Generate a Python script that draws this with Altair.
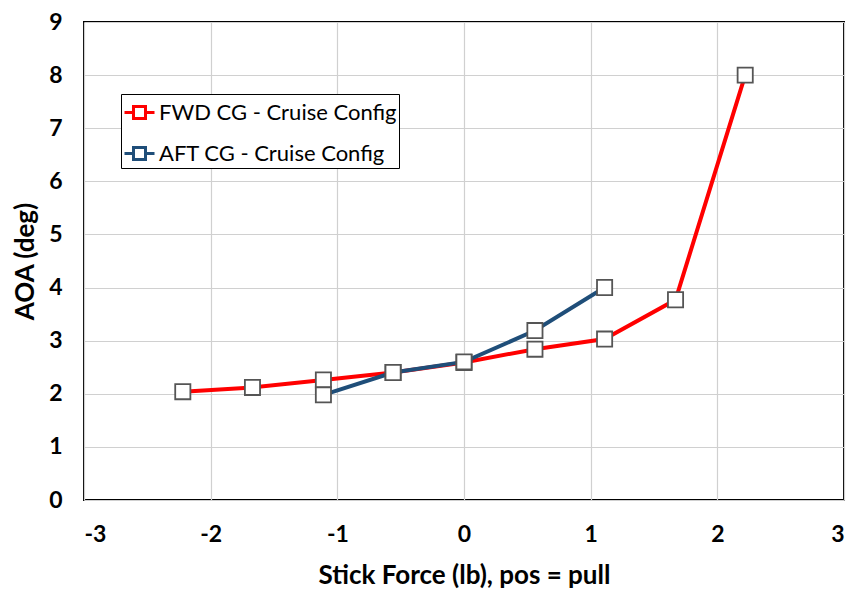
import altair as alt
import pandas as pd

fwd_x = [-2.22, -1.67, -1.11, -0.56, 0.0, 0.56, 1.11, 1.67, 2.22]
fwd_y = [2.04, 2.12, 2.26, 2.40, 2.59, 2.84, 3.03, 3.77, 8.0]
aft_x = [-1.11, -0.56, 0.0, 0.56, 1.11]
aft_y = [1.98, 2.40, 2.60, 3.19, 4.0]
series = ["FWD CG - Cruise Config", "AFT CG - Cruise Config"]
colors = ["#ff0000", "#1f4e79"]
x_ticks = [-3, -2, -1, 0, 1, 2, 3]
y_ticks = [0, 1, 2, 3, 4, 5, 6, 7, 8, 9]

rows = []
for i, (x, y) in enumerate(zip(fwd_x, fwd_y)):
    rows.append({"force": x, "aoa": y, "series": series[0], "order": i})
for i, (x, y) in enumerate(zip(aft_x, aft_y)):
    rows.append({"force": x, "aoa": y, "series": series[1], "order": i})
df = pd.DataFrame(rows)

FONT = "Lato"

x_enc = alt.X("force:Q", scale=alt.Scale(domain=[-3, 3], nice=False),
              axis=alt.Axis(values=x_ticks, labelExpr="'' + datum.value",
                            title="Stick Force (lb), pos = pull"))
y_enc = alt.Y("aoa:Q", scale=alt.Scale(domain=[0, 9], nice=False),
              axis=alt.Axis(values=y_ticks, labelExpr="'' + datum.value", title="AOA (deg)"))

legend_path = "M-1,0H-0.4M0.4,0H1M-0.4,-0.4H0.4V0.4H-0.4Z"

lines = alt.Chart(df).mark_line(strokeWidth=4).encode(
    x=x_enc, y=y_enc,
    color=alt.Color("series:N", scale=alt.Scale(domain=series, range=colors),
                    legend=alt.Legend(title=None, orient="none", legendX=37, legendY=72,
                                      symbolType=legend_path, symbolSize=900,
                                      symbolStrokeWidth=3, symbolFillColor="white",
                                      labelFont=FONT, labelFontSize=22, labelColor="black",
                                      rowPadding=12, labelOffset=3,
                                      padding=2, strokeColor="black", fillColor="white",
                                      labelLimit=400)),
    order="order:Q",
    detail="series:N",
)

points = alt.Chart(df).mark_point(shape="square", filled=True, fill="white",
                                  stroke="#555555", strokeWidth=1.8, size=230, opacity=1).encode(
    x="force:Q", y="aoa:Q"
)

chart = alt.layer(lines, points).properties(
    width=760, height=478,
    autosize=alt.AutoSizeParams(type="none"),
    padding={"left": 76, "top": 14, "right": 8, "bottom": 96},
).configure_view(
    stroke="black", strokeWidth=2
).configure_axis(
    grid=True, gridColor="#d0d0d0", gridWidth=1.2, domain=False, ticks=False,
    labelFont=FONT, labelFontSize=23, labelFontWeight="bold", labelColor="black",
    titleFont=FONT, titleFontSize=26, titleFontWeight="bold", titleColor="black",
).configure_axisY(labelPadding=22, titlePadding=10).configure_axisX(
    labelPadding=23, titlePadding=16
)

chart.save("out.html", embed_options={"renderer": "svg", "actions": False})
